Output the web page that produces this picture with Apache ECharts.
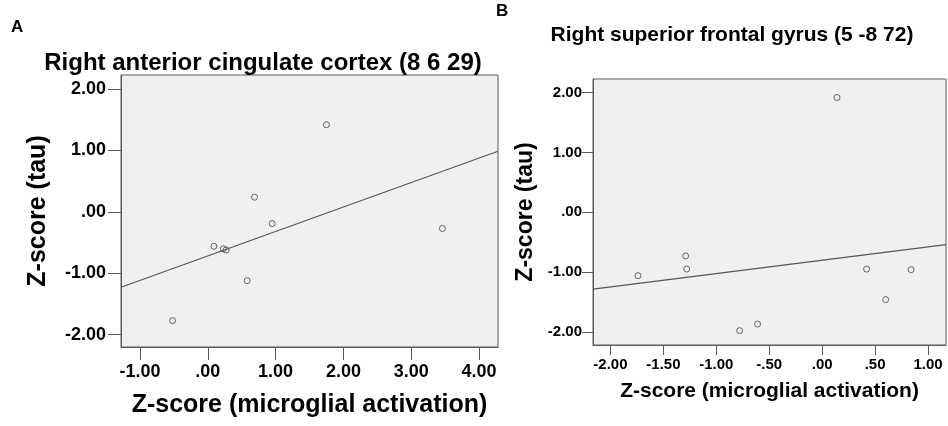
<!DOCTYPE html>
<html>
<head>
<meta charset="utf-8">
<script src="https://cdn.jsdelivr.net/npm/echarts@6/dist/echarts.min.js"></script>
<style>
html,body{margin:0;padding:0;background:#fff;}
#chart{width:948px;height:426px;}
</style>
</head>
<body>
<div id="chart"></div>
<script>
// Panel A: Right anterior cingulate cortex (8 6 29)
const titleA = 'Right anterior cingulate cortex (8 6 29)';
const microA = [1.75, 0.69, 0.95, 0.09, 0.23, 0.27, 0.58, -0.52, 3.46];
const tauA   = [1.42, 0.24, -0.19, -0.56, -0.60, -0.62, -1.12, -1.77, -0.27];
const xTicksA = [-1, 0, 1, 2, 3, 4];
const yTicksA = [-2, -1, 0, 1, 2];

// Panel B: Right superior frontal gyrus (5 -8 72)
const titleB = 'Right superior frontal gyrus (5 -8 72)';
const microB = [0.14, -1.74, -1.29, -1.28, -0.78, -0.61, 0.42, 0.60, 0.84];
const tauB   = [1.92, -1.06, -0.73, -0.95, -1.98, -1.87, -0.95, -1.46, -0.96];
const xTicksB = [-2, -1.5, -1, -0.5, 0, 0.5, 1];
const yTicksB = [-2, -1, 0, 1, 2];

const xLabelName = 'Z-score (microglial activation)';
const yLabelName = 'Z-score (tau)';

function spss(v) {
  let s = Math.abs(v).toFixed(2);
  if (s.startsWith('0')) s = s.slice(1);
  return (v < 0 ? '-' : '') + s;
}
function fit(xs, ys, x0, x1) {
  const n = xs.length;
  const mx = xs.reduce((a, b) => a + b, 0) / n;
  const my = ys.reduce((a, b) => a + b, 0) / n;
  let sxy = 0, sxx = 0;
  for (let i = 0; i < n; i++) { sxy += (xs[i] - mx) * (ys[i] - my); sxx += (xs[i] - mx) ** 2; }
  const b = sxy / sxx, a = my - b * mx;
  return [[x0, a + b * x0], [x1, a + b * x1]];
}

const FONT = 'Liberation Sans, Arial, sans-serif';
const AX = '#5a5a5a';

const rangeA = { xmin: -1.28, xmax: 4.28, ymin: -2.2, ymax: 2.23 };
const rangeB = { xmin: -2.165, xmax: 1.17, ymin: -2.22, ymax: 2.23 };

function xAxis(idx, r, ticks, fs, margin, tickLen, nameFs, nameGap) {
  return {
    type: 'value', gridIndex: idx, min: r.xmin, max: r.xmax,
    name: xLabelName, nameLocation: 'middle', nameGap: nameGap,
    nameTextStyle: { fontFamily: FONT, fontWeight: 'bold', fontSize: nameFs, color: '#000' },
    axisLine: { show: true, onZero: false, lineStyle: { color: AX, width: 1 } },
    axisTick: { show: true, length: tickLen, customValues: ticks, lineStyle: { color: AX } },
    axisLabel: { customValues: ticks, margin: margin, formatter: spss,
      fontFamily: FONT, fontWeight: 'bold', fontSize: fs, color: '#000' },
    splitLine: { show: false }
  };
}
function yAxis(idx, r, ticks, fs, margin, tickLen, nameFs, nameGap) {
  return {
    type: 'value', gridIndex: idx, min: r.ymin, max: r.ymax,
    name: yLabelName, nameLocation: 'middle', nameGap: nameGap, nameRotate: 90,
    nameTextStyle: { fontFamily: FONT, fontWeight: 'bold', fontSize: nameFs, color: '#000' },
    axisLine: { show: true, onZero: false, lineStyle: { color: AX, width: 1 } },
    axisTick: { show: true, length: tickLen, customValues: ticks, lineStyle: { color: AX } },
    axisLabel: { customValues: ticks, margin: margin, formatter: spss,
      fontFamily: FONT, fontWeight: 'bold', fontSize: fs, color: '#000' },
    splitLine: { show: false }
  };
}

const scatterStyle = { color: 'rgba(0,0,0,0)', borderColor: '#444', borderWidth: 1 };

const option = {
  animation: false,
  backgroundColor: '#fff',
  title: [
    { text: titleA, left: 258, top: 46, textAlign: 'center',
      textStyle: { fontFamily: FONT, fontWeight: 'bold', fontSize: 24, color: '#000' } },
    { text: titleB, left: 727, top: 20, textAlign: 'center',
      textStyle: { fontFamily: FONT, fontWeight: 'bold', fontSize: 21, color: '#000' } }
  ],
  graphic: [
    { type: 'text', left: 11, top: 19, style: { text: 'A', font: 'bold 17px ' + FONT, fill: '#000' } },
    { type: 'text', left: 496, top: 3, style: { text: 'B', font: 'bold 17px ' + FONT, fill: '#000' } }
  ],
  grid: [
    { left: 121, top: 75, width: 377, height: 272, show: true, backgroundColor: '#f0f0f0', borderColor: AX, borderWidth: 1 },
    { left: 593, top: 79, width: 353, height: 266, show: true, backgroundColor: '#f0f0f0', borderColor: AX, borderWidth: 1 }
  ],
  xAxis: [
    xAxis(0, rangeA, xTicksA, 18, 16, 13, 25, 46),
    xAxis(1, rangeB, xTicksB, 15, 12, 10, 21, 36)
  ],
  yAxis: [
    yAxis(0, rangeA, yTicksA, 18, 15, 13, 25, 70),
    yAxis(1, rangeB, yTicksB, 15, 11, 11, 23, 56)
  ],
  series: [
    { type: 'scatter', xAxisIndex: 0, yAxisIndex: 0, symbol: 'circle', symbolSize: 6,
      itemStyle: scatterStyle, data: microA.map((x, i) => [x, tauA[i]]) },
    { type: 'line', xAxisIndex: 0, yAxisIndex: 0, symbol: 'none',
      lineStyle: { color: '#555', width: 1.2 }, data: fit(microA, tauA, rangeA.xmin, rangeA.xmax) },
    { type: 'scatter', xAxisIndex: 1, yAxisIndex: 1, symbol: 'circle', symbolSize: 6,
      itemStyle: scatterStyle, data: microB.map((x, i) => [x, tauB[i]]) },
    { type: 'line', xAxisIndex: 1, yAxisIndex: 1, symbol: 'none',
      lineStyle: { color: '#555', width: 1.2 }, data: fit(microB, tauB, rangeB.xmin, rangeB.xmax) }
  ]
};

const chart = echarts.init(document.getElementById('chart'), null, { renderer: 'canvas' });
chart.setOption(option);
</script>
</body>
</html>
